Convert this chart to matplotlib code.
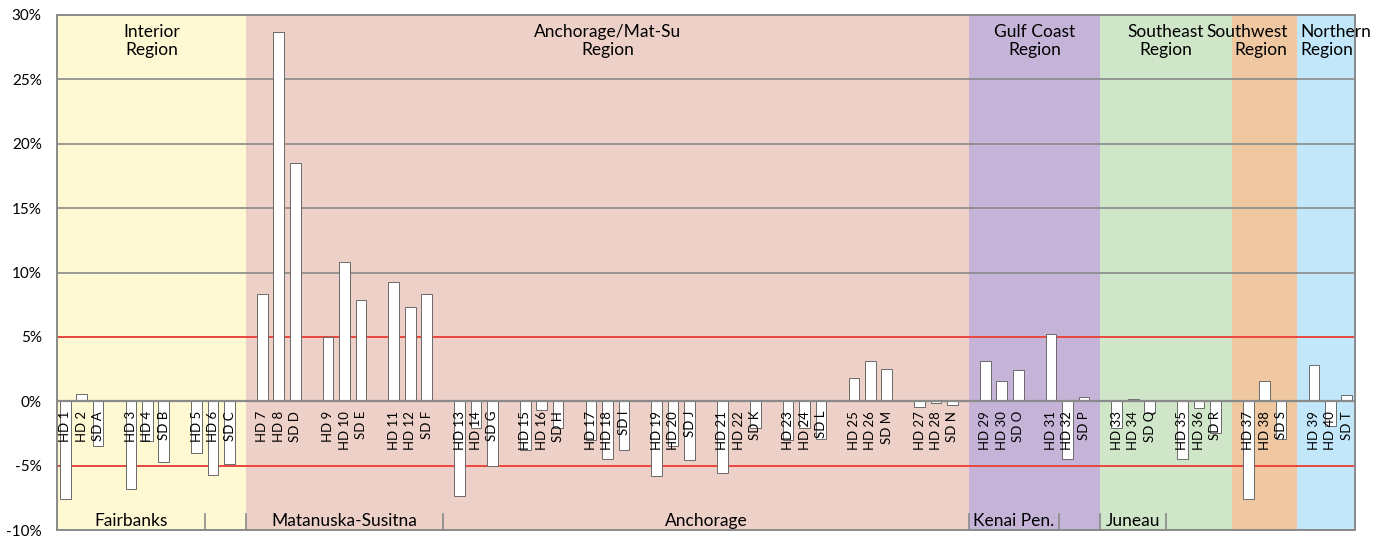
import numpy as np
import matplotlib
matplotlib.use('Agg')
import matplotlib.pyplot as plt

plt.rcParams['font.family'] = ['Lato', 'DejaVu Sans']

# district slots (blank slot after each senate district)
labels = ['HD 1', 'HD 2', 'SD A', '', 'HD 3', 'HD 4', 'SD B', '', 'HD 5', 'HD 6', 'SD C', '',
          'HD 7', 'HD 8', 'SD D', '', 'HD 9', 'HD 10', 'SD E', '', 'HD 11', 'HD 12', 'SD F', '',
          'HD 13', 'HD 14', 'SD G', '', 'HD 15', 'HD 16', 'SD H', '', 'HD 17', 'HD 18', 'SD I', '',
          'HD 19', 'HD 20', 'SD J', '', 'HD 21', 'HD 22', 'SD K', '', 'HD 23', 'HD 24', 'SD L', '',
          'HD 25', 'HD 26', 'SD M', '', 'HD 27', 'HD 28', 'SD N', '',
          'HD 29', 'HD 30', 'SD O', '', 'HD 31', 'HD 32', 'SD P', '',
          'HD 33', 'HD 34', 'SD Q', '', 'HD 35', 'HD 36', 'SD R', '',
          'HD 37', 'HD 38', 'SD S', '', 'HD 39', 'HD 40', 'SD T']

values = [-7.6, 0.6, -3.45, None, -6.8, -3.1, -4.7, None, -4.0, -5.7, -4.85, None,
          8.3, 28.7, 18.5, None, 5.0, 10.8, 7.9, None, 9.3, 7.3, 8.3, None,
          -7.35, -2.1, -5.0, None, -3.8, -0.7, -2.1, None, -3.0, -4.5, -3.8, None,
          -5.8, -3.5, -4.6, None, -5.6, 0.1, -2.1, None, -3.0, -2.1, -2.9, None,
          1.8, 3.1, 2.5, None, -0.45, -0.1, -0.3, None,
          3.1, 1.6, 2.4, None, 5.2, -4.5, 0.3, None,
          -2.1, 0.15, -0.9, None, -4.5, -0.5, -2.5, None,
          -7.6, 1.6, -2.9, None, 2.8, -1.9, 0.5]

# regions
region_names = ['Interior\nRegion', 'Anchorage/Mat-Su\nRegion', 'Gulf Coast\nRegion',
                'Southeast\nRegion', 'Southwest\nRegion', 'Northern\nRegion']
region_edges = [-0.5, 11, 55, 63, 71, 75, 78.5]
region_colors = ['#FFF9D3', '#EDD0C8', '#C5B4D8', '#D0E6C9', '#EFC7A1', '#C2E7FA']

# lower level category labels
group_names = ['Fairbanks', '', 'Matanuska-Susitna', 'Anchorage', 'Kenai Pen.', '', 'Juneau']
group_edges = [-0.5, 8.5, 11, 23, 55, 60.5, 63, 67]

x = np.arange(len(labels))
vals = np.array([np.nan if v is None else v for v in values])

fig = plt.figure(figsize=(13.85, 5.37), dpi=100)
ax = fig.add_axes([57 / 1385, 7 / 537, 1298 / 1385, 515 / 537])

for i, c in enumerate(region_colors):
    ax.axvspan(region_edges[i], region_edges[i + 1], color=c, lw=0, zorder=0)

grid_col = '#8a8a8a'
red_col = '#E8473F'
for y in [10, 15, 20, 25]:
    ax.axhline(y, color=grid_col, lw=1.2, zorder=1)
for y in [5, -5]:
    ax.axhline(y, color=red_col, lw=1.4, zorder=1)

mask = ~np.isnan(vals)
ax.bar(x[mask], vals[mask], width=0.65, color='white', edgecolor='#6a6a6a',
       linewidth=0.7, zorder=2)
ax.axhline(0, color=grid_col, lw=1.6, zorder=3)

for xi, lab in zip(x, labels):
    if lab:
        ax.text(xi, -0.75, lab, rotation=90, ha='center', va='top', fontsize=9.5,
                color='black', zorder=4)

ax.set_xlim(-0.5, 78.5)
ax.set_ylim(-10, 30)
ax.set_xticks([])
ax.set_yticks(np.arange(-10, 31, 5))
ax.set_yticklabels([f'{t}%' for t in range(-10, 31, 5)], fontsize=11)
ax.tick_params(axis='y', length=0, pad=11)
for s in ax.spines.values():
    s.set_color(grid_col)
    s.set_linewidth(1.4)
    s.set_zorder(5)

trans = ax.get_xaxis_transform()
# region titles
for i, name in enumerate(region_names):
    cx = (region_edges[i] + region_edges[i + 1]) / 2
    ha = 'center'
    if name.startswith('Southwest'):
        cx, ha = 74.4, 'right'
    elif name.startswith('Northern'):
        cx, ha = 75.2, 'left'
    ax.text(cx, 0.983, name, transform=trans, ha=ha, va='top', multialignment=ha,
            fontsize=12.5, linespacing=1.2, clip_on=False, zorder=6)

# lower category labels and separators
for i, name in enumerate(group_names):
    a, b = group_edges[i], group_edges[i + 1]
    if name:
        ax.text((a + b) / 2, 0.007, name, transform=trans, ha='center', va='baseline',
                fontsize=12.5, zorder=6)
for e in group_edges[1:]:
    ax.plot([e, e], [0, 0.031], transform=trans, color=grid_col, lw=1.2, zorder=6,
            clip_on=False)

fig.savefig('out.png', dpi=100)
